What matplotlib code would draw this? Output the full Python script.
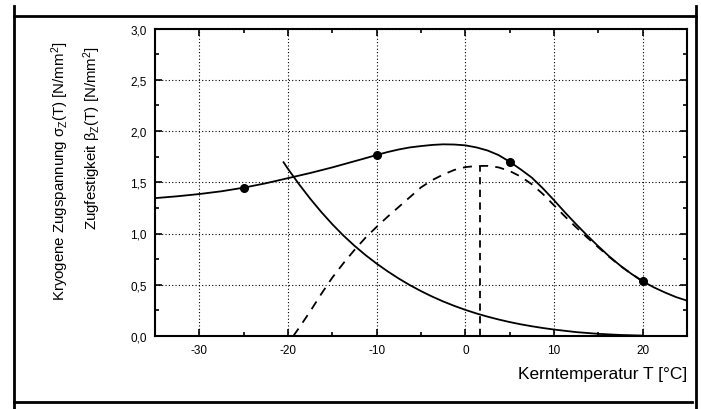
import numpy as np
import matplotlib.pyplot as plt
from matplotlib.lines import Line2D
from matplotlib.ticker import MultipleLocator, FixedLocator, FixedFormatter

plt.rcParams['font.family'] = ['Liberation Sans', 'DejaVu Sans']
plt.rcParams['mathtext.default'] = 'regular'

# oberer Verlauf (durchgezogen)
x_upper = [-35, -32.5, -30, -27.5, -25, -22.5, -20, -17.5, -15, -12.5, -11.25, -10,
           -8.75, -7.5, -6.25, -5, -3.75, -2.5, -1.25, 0, 1.25, 2.5, 3.75, 5, 6.25,
           7.5, 8.75, 10, 11.25, 12.5, 13.75, 15, 16.25, 17.5, 18.75, 20, 21.25,
           22.5, 23.75, 25]
y_upper = [1.345, 1.363, 1.385, 1.412, 1.447, 1.49, 1.54, 1.59, 1.645, 1.705, 1.735, 1.766,
           1.795, 1.82, 1.84, 1.853, 1.864, 1.87, 1.868, 1.86, 1.84, 1.81, 1.765, 1.70, 1.625,
           1.545, 1.44, 1.325, 1.205, 1.09, 0.98, 0.875, 0.775, 0.685, 0.605, 0.534, 0.475,
           0.425, 0.38, 0.345]

# abfallender Verlauf (durchgezogen)
x_decay = [-20.5, -20, -18.75, -17.5, -16.25, -15, -13.75, -12.5, -11.25, -10, -8.75,
           -7.5, -6.25, -5, -3.75, -2.5, -1.25, 0, 1.25, 2.5, 3.75, 5, 6.25, 7.5, 8.75,
           10, 12.5, 15, 17.5, 20]
y_decay = [1.695, 1.63, 1.48, 1.34, 1.21, 1.09, 0.98, 0.88, 0.789, 0.706, 0.63,
           0.56, 0.496, 0.438, 0.385, 0.337, 0.294, 0.255, 0.22, 0.189, 0.161, 0.136, 0.114,
           0.095, 0.078, 0.063, 0.038, 0.021, 0.01, 0.004]

# gestrichelter Verlauf
x_dash = [-19.4, -18.75, -17.5, -16.25, -15, -13.75, -12.5, -11.25, -10, -8.75, -7.5,
          -6.25, -5, -3.75, -2.5, -1.25, 0, 1.25, 2.5, 3.75, 5, 6.25, 7.5, 8.75, 10,
          11.25, 12.5, 13.75, 15, 16.25, 17.5, 18.75, 20]
y_dash = [0.0, 0.08, 0.24, 0.41, 0.57, 0.71, 0.84, 0.96, 1.065, 1.165, 1.26,
          1.355, 1.45, 1.52, 1.575, 1.62, 1.648, 1.658, 1.66, 1.645, 1.61, 1.555, 1.48,
          1.385, 1.275, 1.165, 1.06, 0.96, 0.865, 0.77, 0.683, 0.605, 0.534]

# Messpunkte
x_pts = [-25, -10, 5, 20]
y_pts = [1.447, 1.766, 1.70, 0.534]

# Maximum gestrichelt
x_max = 1.7
y_max = 1.66

x_ticks = [-30, -20, -10, 0, 10, 20]
x_ticklabels = ['-30', '-20', '-10', '0', '10', '20']
y_ticks = [0.0, 0.5, 1.0, 1.5, 2.0, 2.5, 3.0]
y_ticklabels = ['0,0', '0,5', '1,0', '1,5', '2,0', '2,5', '3,0']

fig = plt.figure(figsize=(7.01, 4.10), dpi=100)
ax = fig.add_axes([155 / 701, 1 - 337 / 410, (687 - 155) / 701, (337 - 29.5) / 410])

ax.plot(x_upper, y_upper, color='black', linewidth=1.3)
ax.plot(x_decay, y_decay, color='black', linewidth=1.3)
ax.plot(x_dash, y_dash, color='black', linewidth=1.3, linestyle=(0, (5, 4)))
ax.plot([x_max, x_max], [0, y_max], color='black', linewidth=1.3, linestyle=(0, (4, 3)))
ax.plot(x_pts, y_pts, 'o', color='black', markersize=5.5)

ax.set_xlim(-35, 25)
ax.set_ylim(0, 3)
ax.xaxis.set_major_locator(FixedLocator(x_ticks))
ax.xaxis.set_major_formatter(FixedFormatter(x_ticklabels))
ax.xaxis.set_minor_locator(MultipleLocator(5))
ax.yaxis.set_major_locator(FixedLocator(y_ticks))
ax.yaxis.set_major_formatter(FixedFormatter(y_ticklabels))
ax.yaxis.set_minor_locator(MultipleLocator(0.25))

ax.tick_params(which='both', direction='in', top=True, right=True, width=1.2,
               labelsize=8.5, pad=6)
ax.tick_params(which='major', length=5)
ax.tick_params(which='minor', length=3)
for s in ax.spines.values():
    s.set_linewidth(1.5)

ax.grid(True, which='major', color='black', linestyle=(0, (1, 2)), linewidth=0.8)

ax.set_xlabel('Kerntemperatur T [°C]', fontsize=12.5, loc='right', labelpad=7)

fig.text(60 / 701, 1 - 42 / 410, r'Kryogene Zugspannung $\sigma_Z$(T) [N/mm$^2$]',
         rotation=90, ha='center', va='top', fontsize=10.8)
fig.text(92 / 701, 1 - 46 / 410, r'Zugfestigkeit $\beta_Z$(T) [N/mm$^2$]',
         rotation=90, ha='center', va='top', fontsize=10.8)

# Rahmen
fig.add_artist(Line2D([14 / 701, 696 / 701], [1 - 17 / 410, 1 - 17 / 410],
                      transform=fig.transFigure, color='black', linewidth=2))
fig.add_artist(Line2D([14 / 701, 692 / 701], [1 - 402.5 / 410, 1 - 402.5 / 410],
                      transform=fig.transFigure, color='black', linewidth=2))
fig.add_artist(Line2D([14 / 701, 14 / 701], [1 - 7 / 410, 0],
                      transform=fig.transFigure, color='black', linewidth=2))
fig.add_artist(Line2D([696 / 701, 696 / 701], [1 - 7 / 410, 0],
                      transform=fig.transFigure, color='black', linewidth=2))

fig.savefig('out.png', dpi=100)
